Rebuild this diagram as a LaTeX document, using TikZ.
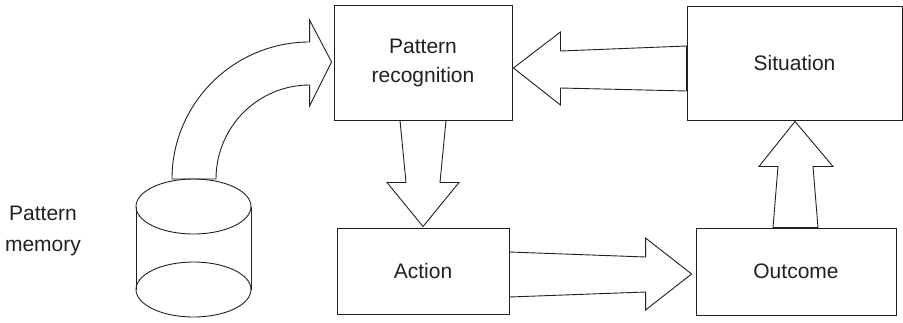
\documentclass[tikz,border=0pt]{standalone}
\usepackage{fontspec}
\setmainfont{Liberation Sans}
\usetikzlibrary{calc}
\newcommand\labfont{\fontsize{21}{29}\selectfont}
\newcommand\memfont{\fontsize{21}{31}\selectfont}
\definecolor{ink}{HTML}{231F20}
\begin{document}
\begin{tikzpicture}[x=1pt,y=-1pt,
  box/.style={draw=ink, line width=0.9pt, inner sep=0pt, align=center, font=\labfont, text=ink},
  blk/.style={draw=ink, line width=0.9pt, line join=miter},
  lbl/.style={align=center, font=\memfont, text=ink, inner sep=0pt}]
\useasboundingbox (0,0) rectangle (903,322);
% boxes
\node[box, minimum width=178pt, minimum height=115pt] (pr) at (423,62.5) {Pattern\\recognition};
\node[box, minimum width=215pt, minimum height=114pt] (sit) at (794.5,63) {Situation};
\node[box, minimum width=172pt, minimum height=86pt] (act) at (423,271) {Action};
\node[box, minimum width=200pt, minimum height=87pt] (out) at (796,271.5) {Outcome};
\node[lbl] (mem) at (43,231) {Pattern\\memory};
% cylinder
\coordinate (cyl) at (193.5,206.5);
\coordinate (cylb) at (193.5,289.5);
\draw[blk] (cyl) ellipse [x radius=57.5pt, y radius=27.5pt];
\draw[blk] (cylb) ellipse [x radius=57.5pt, y radius=27.5pt];
\draw[blk] ($(cyl)+(-57.5,0)$) -- ($(cylb)+(-57.5,0)$);
\draw[blk] ($(cyl)+(57.5,0)$) -- ($(cylb)+(57.5,0)$);
% curved arrow memory -> pattern recognition
\draw[blk] ($(cyl)+(-21.5,-27.5)$) .. controls (172,103) and (234,42) .. ($(pr.west)+(-24,-20.5)$)
  -- ($(pr.west)+(-24,-42.5)$) -- ($(pr.west)+(-2,-0.5)$) -- ($(pr.west)+(-24,43.5)$)
  -- ($(pr.west)+(-24,22.5)$) .. controls (258,85) and (216,127) .. ($(cyl)+(22.5,-27.5)$) -- cycle;
% situation -> pattern recognition
\draw[blk] ($(sit.west)+(0,-17)$) -- ($(pr.east)+(48,-11.5)$) -- ($(pr.east)+(48,-30.5)$)
  -- ($(pr.east)+(1,5.5)$) -- ($(pr.east)+(48,42.5)$) -- ($(pr.east)+(48,25.5)$)
  -- ($(sit.west)+(0,28)$) -- cycle;
% pattern recognition -> action
\draw[blk] ($(pr.south)+(-23,0)$) -- ($(pr.south)+(-17,62)$) -- ($(pr.south)+(-36,62)$)
  -- ($(act.north)+(0,-1)$) -- ($(pr.south)+(36,62)$) -- ($(pr.south)+(17,62)$)
  -- ($(pr.south)+(23,0)$) -- cycle;
% action -> outcome
\draw[blk] ($(act.east)+(0,-19)$) -- ($(out.west)+(-50,-14.5)$) -- ($(out.west)+(-50,-33.5)$)
  -- ($(out.west)+(-4,2.5)$) -- ($(out.west)+(-50,38.5)$) -- ($(out.west)+(-50,20.5)$)
  -- ($(act.east)+(0,26)$) -- cycle;
% outcome -> situation
\draw[blk] ($(out.north)+(-23,0)$) -- ($(sit.south)+(-16.5,46)$) -- ($(sit.south)+(-35.5,46)$)
  -- ($(sit.south)+(0.5,1)$) -- ($(sit.south)+(38.5,46)$) -- ($(sit.south)+(18.5,46)$)
  -- ($(out.north)+(22,0)$) -- cycle;
\end{tikzpicture}
\end{document}
